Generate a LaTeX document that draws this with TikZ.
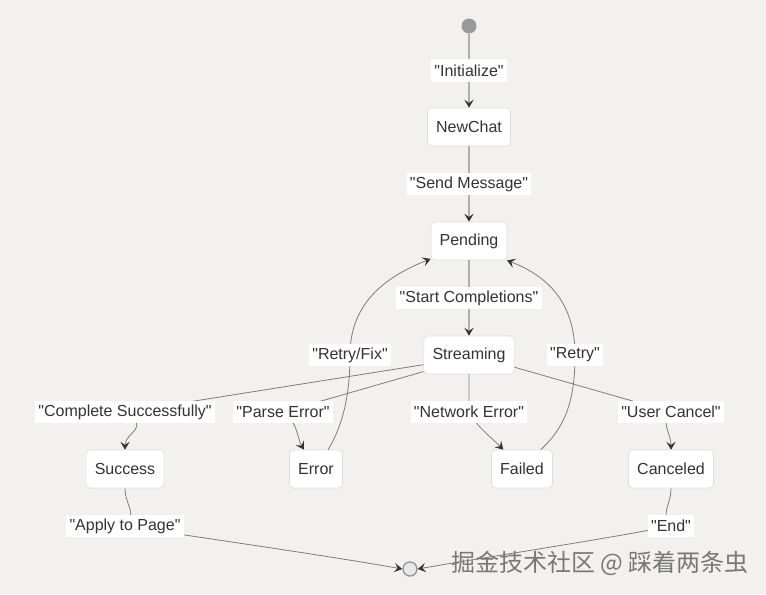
\documentclass[tikz,border=0pt]{standalone}
\usepackage{fontspec}
\setmainfont{Liberation Sans}[Ligatures=TeXOff]
\newfontfamily\cjk{Noto Sans CJK SC}
\usepackage{tikz}
\usetikzlibrary{arrows.meta}
\usepackage{xcolor}
\definecolor{bggray}{RGB}{242, 241, 240}
\definecolor{nodeline}{RGB}{222, 222, 222}
\definecolor{edgegray}{RGB}{175, 175, 175}
\definecolor{thingray}{RGB}{125, 125, 125}
\definecolor{tipdark}{RGB}{51, 51, 51}
\definecolor{textdark}{RGB}{51, 51, 51}
\definecolor{startgray}{RGB}{153, 153, 153}
\definecolor{endfill}{RGB}{232, 232, 232}
\definecolor{wmgray}{RGB}{120, 120, 120}

\begin{document}
\begin{tikzpicture}[
    x=0.75pt, y=-0.75pt,
    stnode/.style={rectangle, rounded corners=3pt, draw=nodeline, line width=0.5pt, fill=white, minimum height=28.5pt, inner xsep=6.5pt, font=\fontsize{12}{14}\selectfont, text=textdark},
    startnode/.style={circle, fill=startgray, minimum size=11.25pt, inner sep=0pt},
    endnode/.style={circle, draw=startgray, line width=1.1pt, fill=endfill, minimum size=10.5pt, inner sep=0pt},
    lbl/.style={rectangle, fill=white, inner xsep=2.5pt, inner ysep=0pt, minimum height=17pt, font=\fontsize{12}{14}\selectfont, text=textdark},
    arr/.style={-{Stealth[length=6pt, width=7pt, inset=2.5pt, color=tipdark]}, line width=1.2pt, edgegray},
    tarr/.style={-{Stealth[length=6pt, width=7pt, inset=2.5pt, color=tipdark]}, line width=0.6pt, thingray},
    wmark/.style={font=\cjk\fontsize{18}{21}\selectfont, text=wmgray},
]
\useasboundingbox (0,0) rectangle (766,594);
\fill[bggray] (0,0) rectangle (766,594);

% 状态
\node[startnode] (start) at (469,26) {};
\node[stnode] (newchat) at (469,127) {NewChat};
\node[stnode] (pending) at (469,241) {Pending};
\node[stnode] (stream)  at (469,355) {Streaming};
\node[stnode] (succ) at (125,469) {Success};
\node[stnode] (err)  at (316,469) {Error};
\node[stnode] (fail) at (522,469) {Failed};
\node[stnode] (canc) at (671,469) {Canceled};
\node[endnode] (end) at (410,569) {};

% 主干
\draw[arr] (start) -- node[lbl] (lInit) {"Initialize"} (newchat);
\draw[arr] (newchat) -- node[lbl] (lSend) {"Send Message"} (pending);
\draw[arr] (pending) -- node[lbl] (lStart) {"Start Completions"} (stream);

% 分支
\draw[tarr] (stream.192) -- (125,412) node[lbl] (lOk) {"Complete Successfully"} .. controls (152,428) and (125,432) .. (succ.north);
\draw[tarr] (stream.200) -- (283,412) node[lbl] (lParse) {"Parse Error"} .. controls (298,422) and (297,438) .. (err.122);
\draw[tarr] (stream.south) -- (469,412) node[lbl] (lNet) {"Network Error"} .. controls (476,426) and (492,438) .. (fail.134);
\draw[tarr] (stream.345) -- (671,412) node[lbl] (lCancel) {"User Cancel"} .. controls (660,424) and (671,432) .. (canc.north);

% 重试
\draw[tarr] (err.58) .. controls (343,425) and (350,395) .. (350,355) node[lbl] (lFix) {"Retry/Fix"} .. controls (350,300) and (390,275) .. (pending.205);
\draw[tarr] (fail.46) .. controls (568,425) and (575,395) .. (575,355) node[lbl] (lRetry) {"Retry"} .. controls (575,300) and (545,275) .. (pending.333);

% 结束
\draw[tarr] (succ.south) .. controls (125,506) and (138,512) .. (125,526) node[lbl] (lApply) {"Apply to Page"} .. controls (190,536) and (330,556) .. (end.west);
\draw[tarr] (canc.south) .. controls (671,506) and (660,512) .. (671,526) node[lbl] (lEnd) {"End"} .. controls (600,540) and (480,558) .. (end.east);

\node[wmark] (wm) at (600,563) {掘金技术社区 @ 踩着两条虫};

\end{tikzpicture}
\end{document}
